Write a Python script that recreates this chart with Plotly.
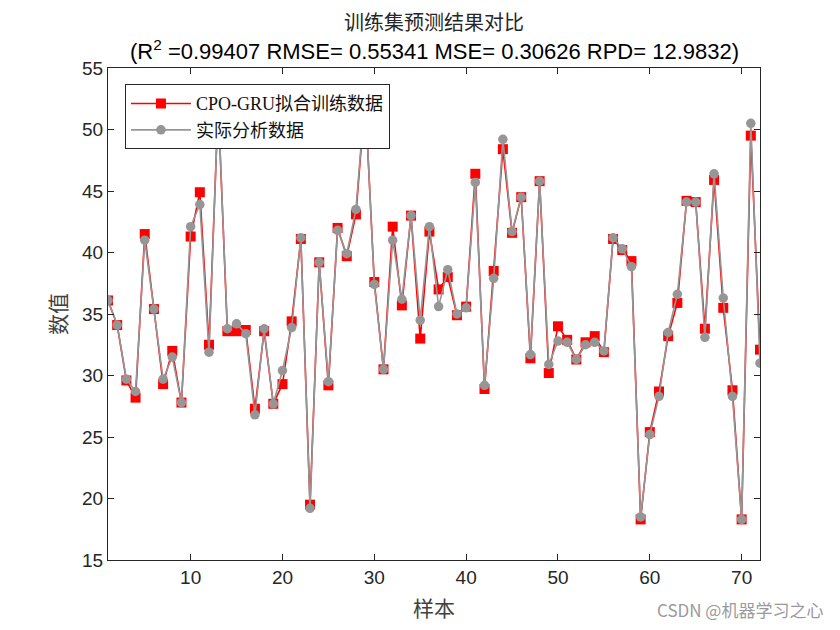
import plotly.graph_objects as go

samples = list(range(1, 73))
pred = [36.1, 34.1, 29.6, 28.2, 41.5, 35.4, 29.3, 32.0, 27.8, 41.3,
        44.9, 32.5, 52.0, 33.6, 33.6, 33.7, 27.3, 33.6, 27.7, 29.3,
        34.4, 41.1, 19.5, 39.2, 29.2, 42.0, 39.7, 43.1, 52.6, 37.6,
        30.5, 42.1, 35.7, 43.0, 33.0, 41.7, 37.0, 38.0, 34.9, 35.6,
        46.4, 28.9, 38.5, 48.4, 41.6, 44.5, 31.4, 45.8, 30.2, 34.0,
        32.9, 31.3, 32.7, 33.2, 31.9, 41.1, 40.2, 39.3, 18.3, 25.4,
        28.7, 33.2, 35.9, 44.2, 44.1, 33.8, 45.9, 35.5, 28.8, 18.3,
        49.5, 32.1]
actual = [36.1, 34.1, 29.7, 28.7, 41.0, 35.4, 29.7, 31.5, 27.8, 42.1,
          43.9, 31.9, 52.2, 33.8, 34.2, 33.4, 26.8, 33.8, 27.7, 30.4,
          33.9, 41.2, 19.2, 39.2, 29.5, 41.8, 39.9, 43.5, 52.8, 37.4,
          30.5, 41.0, 36.2, 43.0, 34.5, 42.1, 35.6, 38.6, 35.0, 35.5,
          45.7, 29.2, 37.9, 49.2, 41.7, 44.5, 31.7, 45.8, 30.9, 32.8,
          32.7, 31.3, 32.5, 32.7, 32.0, 41.2, 40.3, 38.85, 18.5, 25.2,
          28.3, 33.5, 36.6, 44.1, 44.1, 33.1, 46.4, 36.3, 28.3, 18.3,
          50.5, 31.0]
x_ticks = [10, 20, 30, 40, 50, 60, 70]
y_ticks = [15, 20, 25, 30, 35, 40, 45, 50, 55]

title1 = "训练集预测结果对比"
title2 = "(R<sup>2</sup> =0.99407 RMSE= 0.55341 MSE= 0.30626 RPD= 12.9832)"

fig = go.Figure()
fig.add_trace(go.Scatter(
    x=samples, y=pred, mode="lines+markers", name="CPO-GRU拟合训练数据",
    line=dict(color="rgb(255,0,0)", width=1.6),
    marker=dict(symbol="square", size=10, color="rgb(255,0,0)"),
))
fig.add_trace(go.Scatter(
    x=samples, y=actual, mode="lines+markers", name="实际分析数据",
    line=dict(color="rgb(150,150,150)", width=1.6),
    marker=dict(symbol="circle", size=9.5, color="rgb(150,150,150)"),
))

axis_common = dict(
    showgrid=False, zeroline=False, showline=True, linecolor="#262626",
    linewidth=1, mirror="ticks", ticks="inside", ticklen=6,
    tickcolor="#262626", tickfont=dict(family="Liberation Sans, Arial", size=19, color="#262626"),
)
fig.update_xaxes(range=[1, 72], tickvals=x_ticks, **axis_common,
                 title=dict(text="样本", font=dict(family="Noto Sans CJK SC", size=21, color="#404040"), standoff=14))
fig.update_yaxes(range=[15, 55], tickvals=y_ticks, **axis_common,
                 title=dict(text="数值", font=dict(family="Noto Sans CJK SC", size=21, color="#404040"), standoff=9))

fig.update_layout(
    width=840, height=630,
    margin=dict(l=100, r=88, t=60, b=78, autoexpand=False),
    paper_bgcolor="white", plot_bgcolor="white",
    showlegend=True,
    legend=dict(x=0.026, y=0.967, xanchor="left", yanchor="top",
                bgcolor="white", bordercolor="#262626", borderwidth=1,
                font=dict(family="Liberation Serif, Noto Sans CJK SC", size=18, color="#111111"),
                tracegroupgap=0, itemwidth=60),
    annotations=[
        dict(text=title1, xref="paper", yref="paper", x=0.5, y=1.094,
             xanchor="center", yanchor="middle", showarrow=False,
             font=dict(family="Noto Sans CJK SC", size=20, color="#262626")),
        dict(text=title2, xref="paper", yref="paper", x=0.5, y=1.0366,
             xanchor="center", yanchor="middle", showarrow=False,
             font=dict(family="Liberation Sans, Arial", size=22, color="#000000")),
        dict(text="CSDN @机器学习之心", xref="paper", yref="paper", x=1.1, y=-0.1,
             xanchor="right", yanchor="middle", showarrow=False,
             font=dict(family="Noto Sans CJK SC", size=17, color="#9a9a9a")),
    ],
)

fig.write_html("out.html")
